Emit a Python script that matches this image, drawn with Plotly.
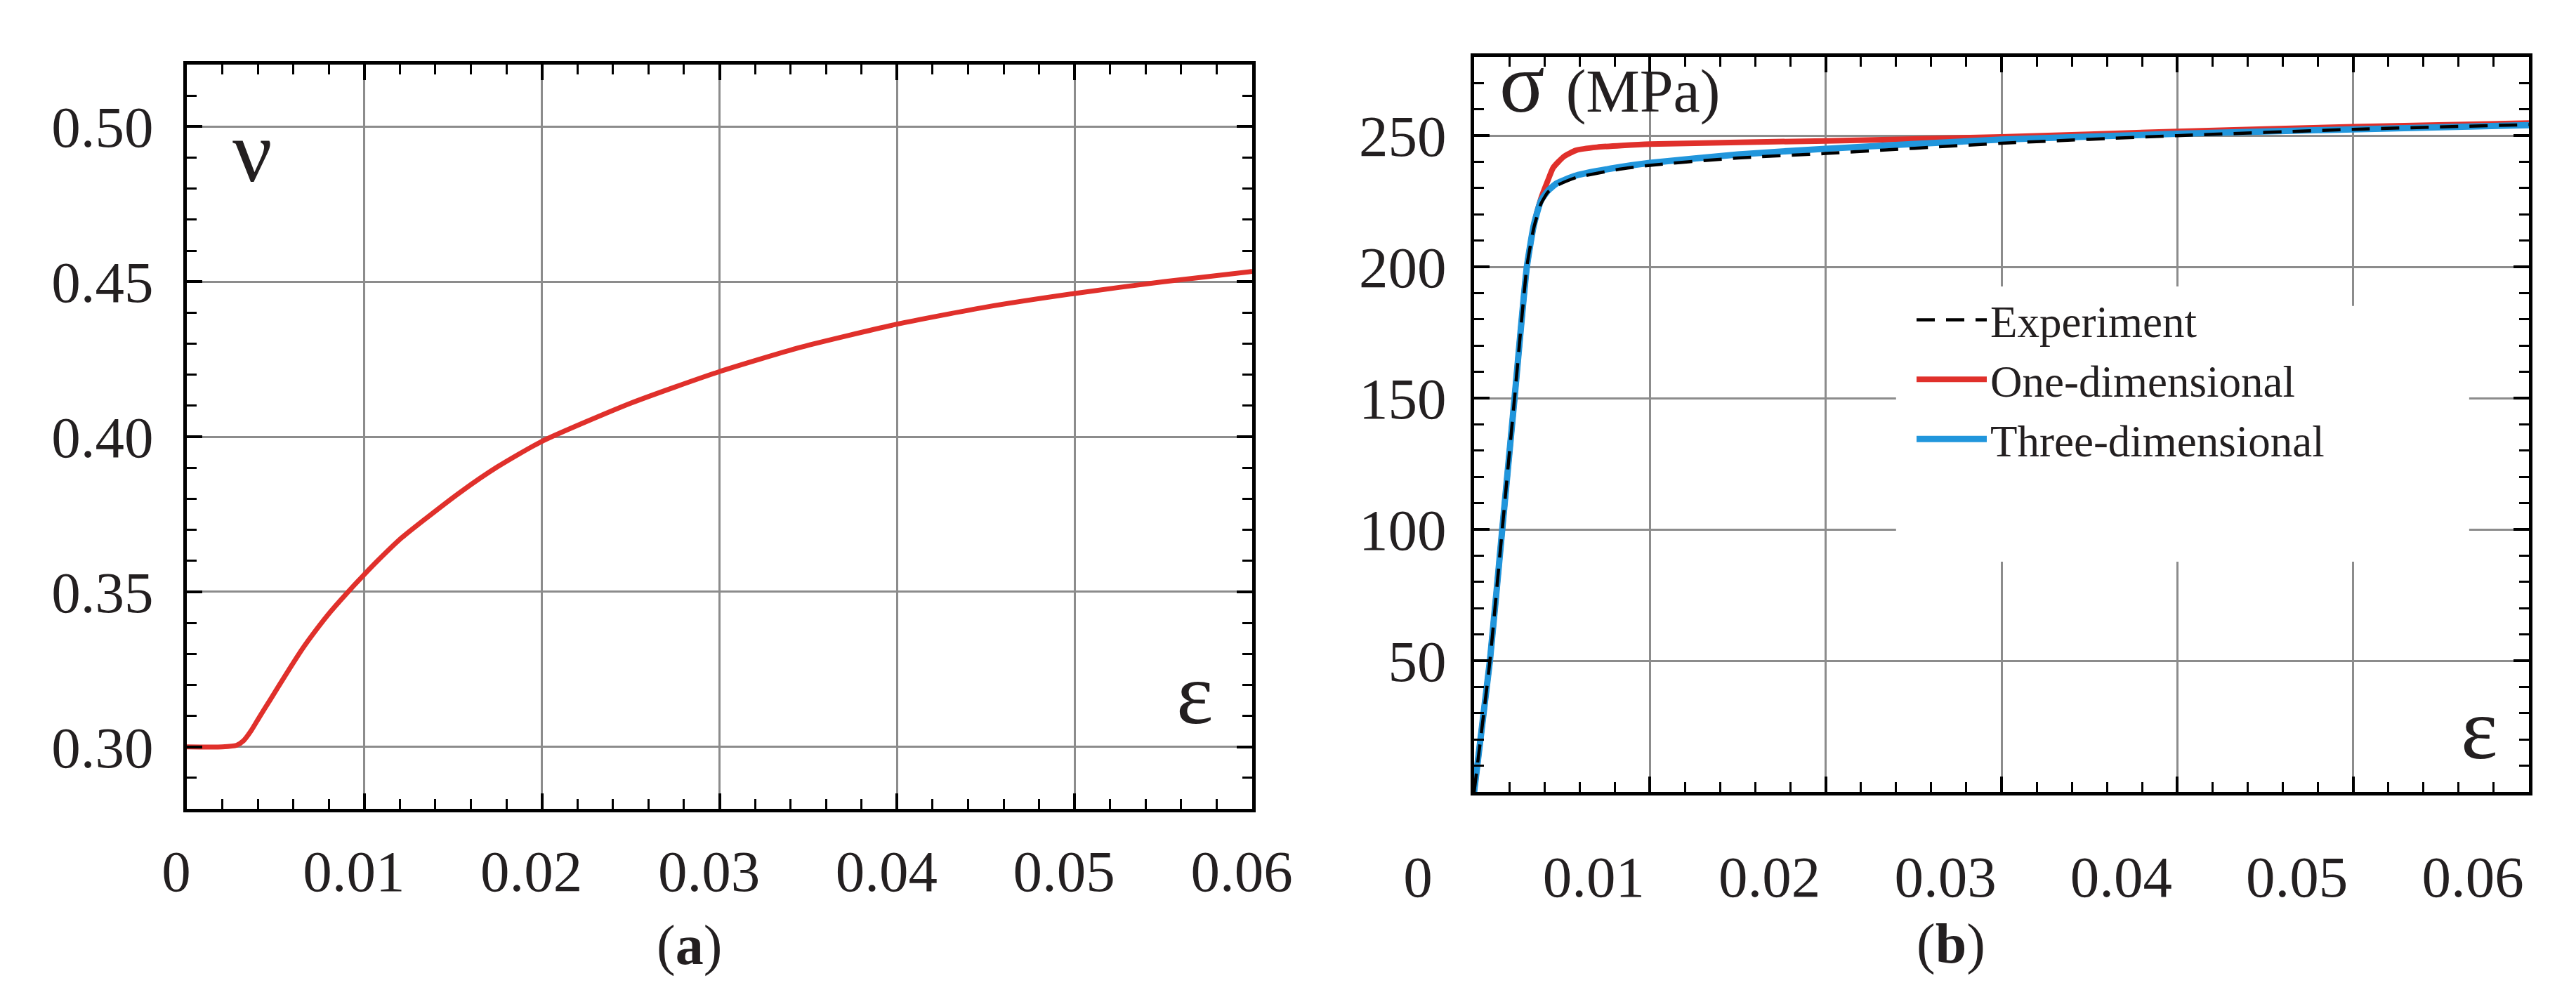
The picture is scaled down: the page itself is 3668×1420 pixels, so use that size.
import plotly.graph_objects as go

W, H = 3668, 1420

# ---------------- data: panel (a) Poisson ratio ----------------
nu_eps = [0, 0.0020, 0.0028, 0.0032, 0.0036, 0.0041, 0.0047, 0.0052, 0.0058, 0.0065,
          0.0073, 0.0081, 0.0089, 0.0100, 0.0108, 0.0121, 0.0135, 0.0154,
          0.0175, 0.0200, 0.0250, 0.0300, 0.0346, 0.0400, 0.0450, 0.0500, 0.0550, 0.0600]
nu_val = [0.300, 0.300, 0.3005, 0.3020, 0.3050, 0.3097, 0.3152, 0.3198, 0.3253, 0.3315,
          0.3378, 0.3436, 0.3488, 0.3556, 0.3603, 0.3674, 0.3738, 0.3821,
          0.3903, 0.3985, 0.4108, 0.4210, 0.4289, 0.4363, 0.4418, 0.4462, 0.4500, 0.4533]

# ---------------- data: panel (b) stress-strain ----------------
exp_eps = [0, 0.0009, 0.0016, 0.0023, 0.0030, 0.0034, 0.0038, 0.0042, 0.0047, 0.0058,
           0.0081, 0.0100, 0.0150, 0.0200, 0.0300, 0.0400, 0.0500, 0.0600]
exp_sig = [0, 50, 100, 150, 200, 215, 224, 228.5, 231, 234,
           237, 238.7, 241.5, 243.2, 247.1, 250, 252.4, 254.2]

three_eps = [0, 0.0009, 0.0016, 0.0023, 0.0030, 0.0034, 0.0038, 0.0042, 0.0047, 0.0058,
             0.0081, 0.0100, 0.0150, 0.0200, 0.0300, 0.0400, 0.0500, 0.0600]
three_sig = [0, 50, 100, 150, 200, 216, 225.2, 229, 231.8, 234.8,
             237.8, 239.6, 242.8, 245, 248.5, 250.7, 252.4, 254]

one_eps = [0, 0.0009, 0.0016, 0.0023, 0.0030, 0.0034, 0.0038, 0.0042, 0.0045, 0.0051,
           0.0058, 0.0070, 0.0100, 0.0200, 0.0300, 0.0400, 0.0500, 0.0600]
one_sig = [0, 50, 100, 150, 200, 216, 226, 233, 237.8, 242,
           244.4, 245.6, 246.8, 248, 249.5, 251.6, 253.4, 254.8]

x_ticks = [0, 0.01, 0.02, 0.03, 0.04, 0.05, 0.06]
x_text = ["0", "0.01", "0.02", "0.03", "0.04", "0.05", "0.06"]
nu_ticks = [0.30, 0.35, 0.40, 0.45, 0.50]
nu_text = ["0.30", "0.35", "0.40", "0.45", "0.50"]
sig_ticks = [50, 100, 150, 200, 250]
sig_text = ["50", "100", "150", "200", "250"]

RED = "#e0302b"
BLUE = "#2196dc"
FONT = "Liberation Serif"
TXT = "#231f20"
GRID = "#8c8c8c"


def px(x):
    return x / W


def py(y):
    return 1 - y / H


fig = go.Figure()

fig.add_trace(go.Scatter(x=nu_eps, y=nu_val, mode="lines",
                         line=dict(color=RED, width=7, shape="spline", smoothing=0.6),
                         showlegend=False, xaxis="x", yaxis="y"))

fig.add_trace(go.Scatter(x=one_eps, y=one_sig, mode="lines", name="One-dimensional", legendrank=2,
                         line=dict(color=RED, width=8, shape="spline", smoothing=0.5), xaxis="x2", yaxis="y2"))
fig.add_trace(go.Scatter(x=three_eps, y=three_sig, mode="lines", name="Three-dimensional", legendrank=3,
                         line=dict(color=BLUE, width=9, shape="spline", smoothing=0.5), xaxis="x2", yaxis="y2"))
fig.add_trace(go.Scatter(x=exp_eps, y=exp_sig, mode="lines", name="Experiment", legendrank=1,
                         line=dict(color="black", width=4.5, dash="26px,16px", shape="spline", smoothing=0.5),
                         xaxis="x2", yaxis="y2"))

common_axis = dict(
    showline=True, linecolor="black", linewidth=5, mirror="allticks",
    ticks="inside", ticklen=22, tickwidth=4, tickcolor="black",
    showgrid=True, gridcolor=GRID, gridwidth=3, zeroline=False, automargin=False,
    tickfont=dict(family=FONT, size=83, color=TXT),
)
minor_common = dict(ticks="inside", ticklen=14, tickwidth=3, tickcolor="black", showgrid=False)

fig.update_layout(
    width=W, height=H, paper_bgcolor="white", plot_bgcolor="white",
    margin=dict(l=0, r=0, t=0, b=0, autoexpand=False),
    xaxis=dict(common_axis, domain=[px(258), px(1775)], range=[0, 0.06], anchor="y",
               tickvals=x_ticks, ticktext=x_text, ticklabelstandoff=12, ticklabelshift=-15,
               minor=dict(minor_common, dtick=0.002)),
    yaxis=dict(common_axis, domain=[py(1144), py(84)], range=[0.28, 0.52], anchor="x",
               tickvals=nu_ticks, ticktext=nu_text, ticklabelstandoff=26,
               minor=dict(minor_common, dtick=0.01)),
    xaxis2=dict(common_axis, domain=[px(2091), px(3593)], range=[0, 0.06], anchor="y2",
                tickvals=x_ticks, ticktext=x_text, ticklabelstandoff=44, ticklabelshift=-80,
                minor=dict(minor_common, dtick=0.002)),
    yaxis2=dict(common_axis, domain=[py(1120), py(73)], range=[0, 280], anchor="x2",
                tickvals=sig_ticks, ticktext=sig_text, ticklabelstandoff=18,
                minor=dict(minor_common, dtick=10)),
    legend=dict(x=px(2716), y=py(400), xanchor="left", yanchor="top",
                bgcolor="white", borderwidth=0, itemwidth=100,
                font=dict(family=FONT, size=63, color=TXT), tracegroupgap=0),
    showlegend=True,
)

# white area behind the legend that interrupts the grid (drawn between grid and traces)
fig.add_shape(type="rect", xref="x2", yref="y2",
              x0=0.0240, x1=0.0566, y0=87.7, y1=185.1,
              fillcolor="white", line=dict(width=0), layer="between")

ann_font = dict(family=FONT, color=TXT)
annotations = [
    dict(text="ν", x=px(351), y=py(208), font=dict(ann_font, size=125)),
    dict(text="ε", x=px(1693), y=py(980), font=dict(ann_font, size=125)),
    dict(text="ε", x=px(3522), y=py(1030), font=dict(ann_font, size=125)),
    dict(text="σ <span style='font-size:86px'>(MPa)</span>", x=px(2125), y=py(110),
         xanchor="left", font=dict(ann_font, size=120)),
    dict(text="(<b>a</b>)", x=px(973), y=py(1338), font=dict(ann_font, size=80)),
    dict(text="(<b>b</b>)", x=px(2770), y=py(1336), font=dict(ann_font, size=80)),
]
for a in annotations:
    a.setdefault("xanchor", "center")
    a.setdefault("yanchor", "middle")
    a.update(xref="paper", yref="paper", showarrow=False)
fig.update_layout(annotations=annotations)

fig.write_html("out.html")
